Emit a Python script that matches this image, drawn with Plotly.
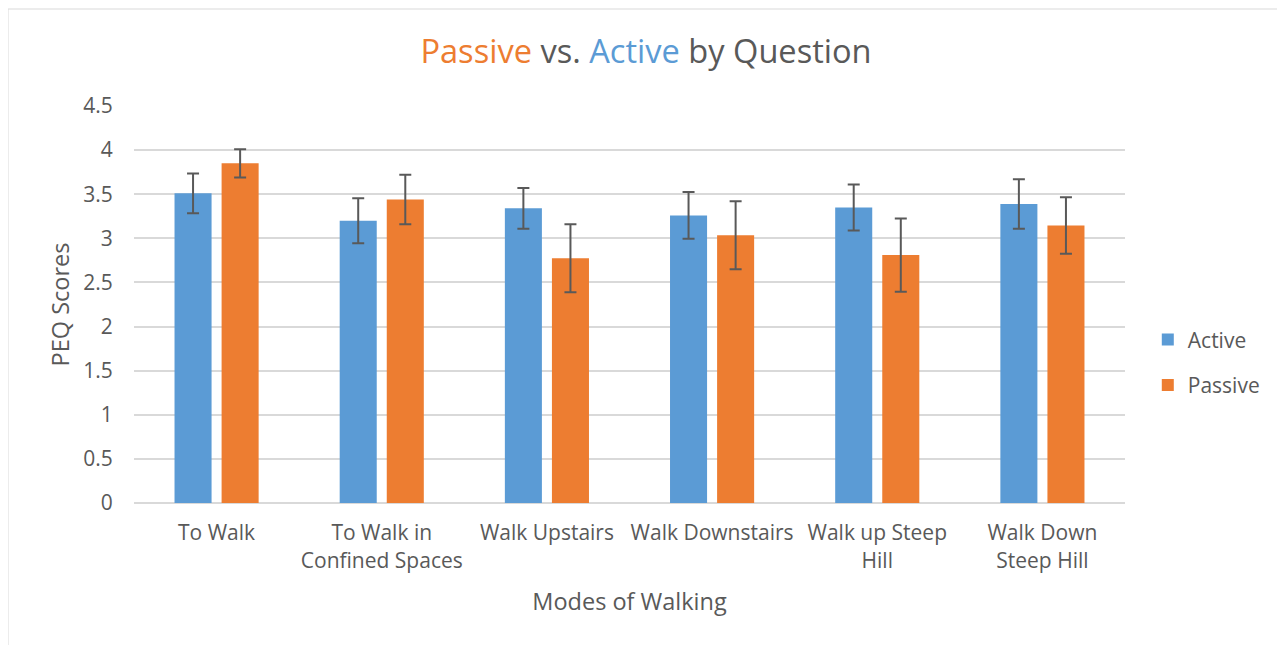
import plotly.graph_objects as go

categories = ["To Walk", "To Walk in<br>Confined Spaces", "Walk Upstairs", "Walk Downstairs",
              "Walk up Steep<br>Hill", "Walk Down<br>Steep Hill"]
active = [3.51, 3.20, 3.34, 3.26, 3.35, 3.39]
active_err = [0.225, 0.255, 0.23, 0.265, 0.26, 0.28]
passive = [3.85, 3.44, 2.775, 3.035, 2.81, 3.145]
passive_err = [0.16, 0.28, 0.385, 0.385, 0.415, 0.32]
yticks = [0, 0.5, 1, 1.5, 2, 2.5, 3, 3.5, 4, 4.5]

BLUE = "#5B9BD5"
ORANGE = "#ED7D31"
GRAY = "#595959"
FONT = "Open Sans"

fig = go.Figure()
fig.add_trace(go.Bar(
    x=categories, y=active, name="Active", marker=dict(color=BLUE, line=dict(width=0)),
    error_y=dict(type="data", array=active_err, color=GRAY, thickness=2, width=6),
    legendgroup="a",
))
fig.add_trace(go.Bar(
    x=categories, y=passive, name="Passive", marker=dict(color=ORANGE, line=dict(width=0)),
    error_y=dict(type="data", array=passive_err, color=GRAY, thickness=2, width=6),
    legendgroup="p",
))

L, T, R, B = 126, 98, 168, 150
PW, PH = 1285 - L - R, 645 - T - B

fig.update_layout(
    width=1285, height=645,
    paper_bgcolor="white", plot_bgcolor="white",
    margin=dict(l=L, r=R, t=T, b=B),
    barmode="group", bargap=0.43, bargroupgap=0.213,
    font=dict(family=FONT, color=GRAY, size=20),
    title=dict(
        text=f"<span style='color:{ORANGE}'>Passive</span> vs. <span style='color:{BLUE}'>Active</span> by Question",
        x=638 / 1285, xref="container", xanchor="center", y=1 - 44 / 645, yref="container", yanchor="middle",
        font=dict(family=FONT, size=32.6, color=GRAY),
    ),
    legend=dict(
        x=1.023, xanchor="left", y=0.354, yanchor="middle",
        font=dict(family=FONT, size=21, color=GRAY),
        traceorder="grouped", tracegroupgap=15, itemwidth=30,
        bgcolor="rgba(0,0,0,0)",
    ),
    xaxis=dict(
        showgrid=False, showline=False, zeroline=False,
        ticks="outside", ticklen=11, tickcolor="white",
        tickfont=dict(family=FONT, size=21, color=GRAY),
        title=dict(text="Modes of Walking", font=dict(family=FONT, size=23.5, color=GRAY), standoff=21),
    ),
    yaxis=dict(
        range=[0, 4.5], tickvals=yticks, ticktext=[f"{v:g}" for v in yticks],
        showgrid=True, gridcolor="#D9D9D9", gridwidth=1.5,
        zeroline=True, zerolinecolor="#D9D9D9", zerolinewidth=1.5,
        showline=False, ticks="outside", ticklen=16, tickcolor="white",
        tickfont=dict(family=FONT, size=21, color=GRAY),
        title=dict(text="PEQ Scores", font=dict(family=FONT, size=23.5, color=GRAY), standoff=7),
    ),
)

# outer chart-area border
fig.add_shape(type="rect", xref="paper", yref="paper",
              x0=(0 - L) / PW, x1=(1274 - L) / PW,
              y0=-0.5, y1=(PH + T - 1) / PH,
              line=dict(color="#D9D9D9", width=1), fillcolor="rgba(0,0,0,0)", layer="below")

fig.write_html("out.html")
